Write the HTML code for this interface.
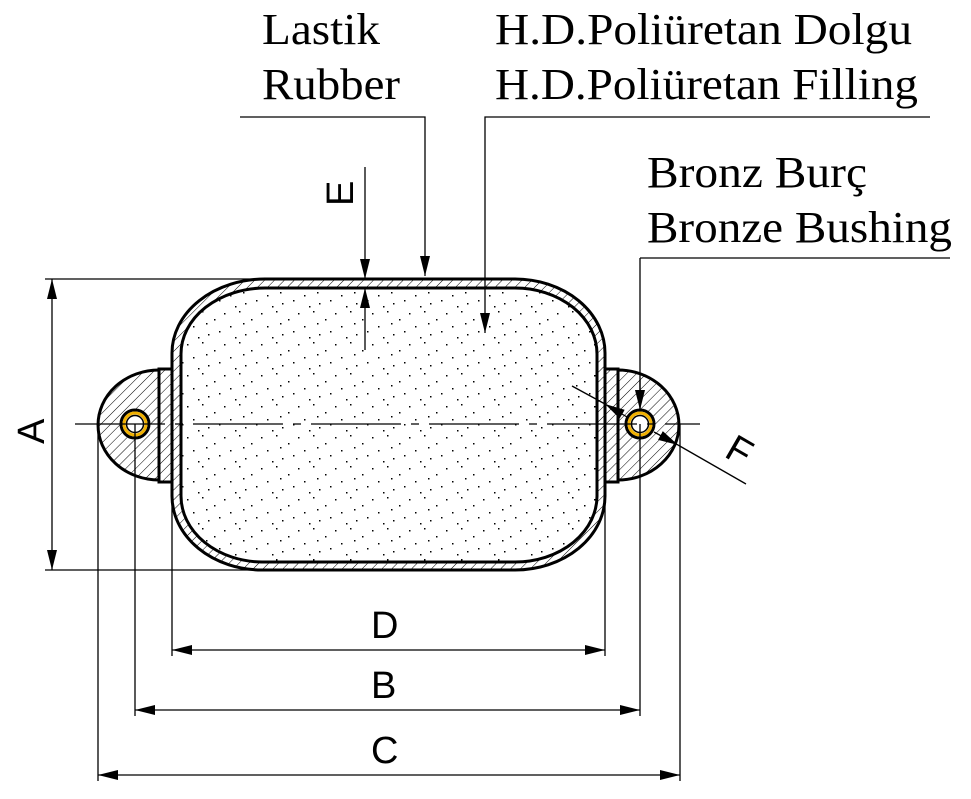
<!DOCTYPE html>
<html><head><meta charset="utf-8"><style>
html,body{margin:0;padding:0;background:#fff}
svg{display:block}
.t{font-family:"Liberation Serif",serif;font-size:44px;fill:#000}
.s{font-family:"Liberation Sans",sans-serif;font-size:38px;fill:#000}
</style></head><body>
<svg width="971" height="799" viewBox="0 0 971 799" xmlns="http://www.w3.org/2000/svg">
<defs>
<pattern id="h" width="7" height="7" patternUnits="userSpaceOnUse" patternTransform="rotate(45)">
<line x1="0" y1="0" x2="0" y2="7" stroke="#000" stroke-width="1"/></pattern>
<pattern id="d" width="37" height="31" patternUnits="userSpaceOnUse">
<rect x="2" y="3" width="1.5" height="1.5" fill="#000"/><rect x="17" y="1" width="1.5" height="1.5" fill="#000"/>
<rect x="29" y="9" width="1.5" height="1.5" fill="#000"/><rect x="8" y="16" width="1.5" height="1.5" fill="#000"/>
<rect x="23" y="24" width="1.5" height="1.5" fill="#000"/><rect x="34" y="21" width="1.5" height="1.5" fill="#000"/>
<rect x="13" y="27" width="1.5" height="1.5" fill="#000"/><rect x="21" y="13" width="1.5" height="1.5" fill="#000"/>
</pattern>
<marker id="a" viewBox="0 0 20 10" refX="20" refY="5" markerWidth="20" markerHeight="10" markerUnits="userSpaceOnUse" orient="auto-start-reverse"><path d="M0,0 L20,5 L0,10 Z" fill="#000"/></marker>
</defs>
<g fill="none" stroke="#000" stroke-width="1.3">
<line x1="45" y1="279" x2="262" y2="279"/><line x1="45" y1="570" x2="262" y2="570"/>
<line x1="172" y1="482" x2="172" y2="656"/><line x1="605" y1="482" x2="605" y2="656"/>
<line x1="135" y1="424" x2="135" y2="716"/><line x1="640" y1="424" x2="640" y2="716"/>
<line x1="98" y1="424" x2="98" y2="781"/><line x1="680" y1="424" x2="680" y2="781"/>
<line x1="52" y1="279" x2="52" y2="570" marker-start="url(#a)" marker-end="url(#a)"/>
<line x1="172" y1="650" x2="605" y2="650" marker-start="url(#a)" marker-end="url(#a)"/>
<line x1="135" y1="710" x2="640" y2="710" marker-start="url(#a)" marker-end="url(#a)"/>
<line x1="98" y1="775" x2="680" y2="775" marker-start="url(#a)" marker-end="url(#a)"/>
</g>
<path d="M159,370 A61,55 0 0 0 159,480 Z" fill="url(#h)" stroke="#000" stroke-width="3"/>
<rect x="159" y="369" width="13" height="113" fill="url(#h)" stroke="#000" stroke-width="3"/>
<path d="M618,370 A61,55 0 0 1 618,480 Z" fill="url(#h)" stroke="#000" stroke-width="3"/>
<rect x="605" y="369" width="13" height="113" fill="url(#h)" stroke="#000" stroke-width="3"/>
<path d="M265,288 H515 A82,66 0 0 1 597,354 V495 A82,66 0 0 1 515,562 H262 A82,66 0 0 1 181,496 V354 A84,66 0 0 1 265,288Z" fill="#fff"/>
<path d="M265,288 H515 A82,66 0 0 1 597,354 V495 A82,66 0 0 1 515,562 H262 A82,66 0 0 1 181,496 V354 A84,66 0 0 1 265,288Z" fill="url(#d)"/>
<path fill-rule="evenodd" fill="url(#h)" stroke="#000" stroke-width="3" d="M265,279 H515 A90,74 0 0 1 605,353 V496 A90,74 0 0 1 515,570 H262 A90,74 0 0 1 172,496 V353 A93,74 0 0 1 265,279 Z M265,288 H515 A82,66 0 0 1 597,354 V495 A82,66 0 0 1 515,562 H262 A82,66 0 0 1 181,496 V354 A84,66 0 0 1 265,288Z"/>
<circle cx="135" cy="424" r="14" fill="#fff" stroke="#000" stroke-width="3"/>
<circle cx="135" cy="424" r="11" fill="none" stroke="#f0b000" stroke-width="3"/>
<circle cx="135" cy="424" r="8.5" fill="none" stroke="#000" stroke-width="1.5"/>
<circle cx="640" cy="424" r="14" fill="#fff" stroke="#000" stroke-width="3"/>
<circle cx="640" cy="424" r="11" fill="none" stroke="#f0b000" stroke-width="3"/>
<circle cx="640" cy="424" r="8.5" fill="none" stroke="#000" stroke-width="1.5"/>
<g fill="none" stroke="#000" stroke-width="1.3">
<line x1="135" y1="424" x2="135" y2="440"/><line x1="640" y1="424" x2="640" y2="440"/>
<line x1="640" y1="258" x2="640" y2="410"/>
<line x1="75" y1="424" x2="700" y2="424" stroke-dasharray="90,10,8,10"/>
<polyline points="240,117 425,117 425,276" marker-end="url(#a)"/>
<polyline points="930,117 485,117 485,333" marker-end="url(#a)"/>
<line x1="950" y1="258" x2="640" y2="258"/>
<line x1="640" y1="380" x2="640" y2="410" marker-end="url(#a)"/>
<line x1="365" y1="167" x2="365" y2="279" marker-end="url(#a)"/>
<line x1="365" y1="350" x2="365" y2="288" marker-end="url(#a)"/>
<line x1="572" y1="386" x2="605" y2="404"/>
<line x1="605" y1="404" x2="627" y2="417" marker-start="url(#a)"/>
<line x1="654" y1="432" x2="678" y2="445" marker-end="url(#a)"/>
<line x1="678" y1="445" x2="746" y2="484"/>
</g>
<text class="t" x="262" y="44" textLength="118" lengthAdjust="spacingAndGlyphs">Lastik</text>
<text class="t" x="262" y="99" textLength="138" lengthAdjust="spacingAndGlyphs">Rubber</text>
<text class="t" x="495" y="44" textLength="417" lengthAdjust="spacingAndGlyphs">H.D.Poliüretan Dolgu</text>
<text class="t" x="495" y="99" textLength="423" lengthAdjust="spacingAndGlyphs">H.D.Poliüretan Filling</text>
<text class="t" x="647" y="187" textLength="220" lengthAdjust="spacingAndGlyphs">Bronz Burç</text>
<text class="t" x="647" y="242" textLength="305" lengthAdjust="spacingAndGlyphs">Bronze Bushing</text>
<text class="s" x="0" y="0" transform="translate(353,206) rotate(-90)">E</text>
<text class="s" x="0" y="0" transform="translate(44,444) rotate(-90)">A</text>
<text class="s" x="371" y="638">D</text>
<text class="s" x="371" y="698">B</text>
<text class="s" x="371" y="763">C</text>
<text class="s" x="0" y="0" transform="translate(723,456) rotate(30)">F</text>
</svg>
</body></html>
